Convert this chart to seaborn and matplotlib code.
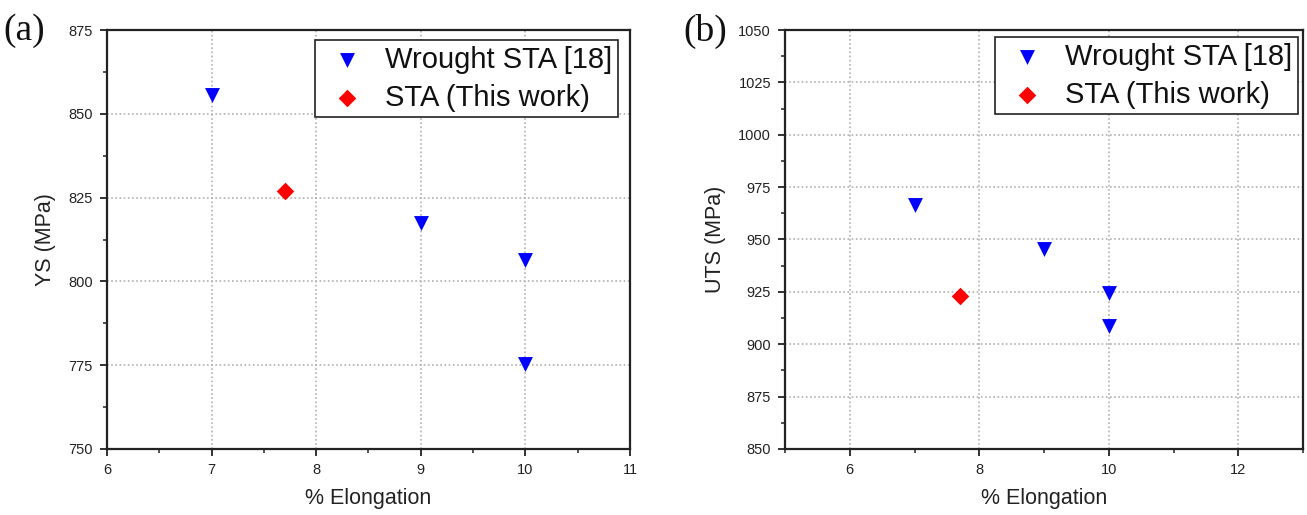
import numpy as np
import pandas as pd
import matplotlib
matplotlib.use("Agg")
import matplotlib.pyplot as plt
from matplotlib.ticker import MultipleLocator
import seaborn as sns

# ---- data ----
series = ["Wrought STA [18]", "Wrought STA [18]", "Wrought STA [18]", "Wrought STA [18]", "STA (This work)"]
elongation = [7, 9, 10, 10, 7.7]
ys = [855.5, 817.5, 806.5, 775.5, 827]
uts = [966.5, 945.5, 924.5, 908.5, 923]

df = pd.DataFrame({"series": series, "elong": elongation, "ys": ys, "uts": uts})

sns.set_theme(style="white")
plt.rcParams["font.family"] = ["Liberation Sans", "DejaVu Sans"]

palette = {"Wrought STA [18]": "#0000ff", "STA (This work)": "#ff0000"}
markers = {"Wrought STA [18]": "v", "STA (This work)": "D"}
sizes_pts = {"Wrought STA [18]": 115, "STA (This work)": 80}

fig = plt.figure(figsize=(13.07, 5.15), dpi=100)
ax_a = fig.add_axes([107 / 1307, 1 - 449 / 515, 523 / 1307, 419 / 515])
ax_b = fig.add_axes([785 / 1307, 1 - 449 / 515, 518 / 1307, 419 / 515])


def draw(ax, ycol, ylabel, xlim, ylim, xmaj, xmin, ymaj, ymin, leg_anchor, tag, tag_x):
    for name in ["Wrought STA [18]", "STA (This work)"]:
        sub = df[df["series"] == name]
        sns.scatterplot(data=sub, x="elong", y=ycol, ax=ax, color=palette[name],
                        marker=markers[name], s=sizes_pts[name], linewidth=0,
                        label=name, zorder=3)
    ax.set_xlim(*xlim)
    ax.set_ylim(*ylim)
    ax.xaxis.set_major_locator(MultipleLocator(xmaj))
    ax.xaxis.set_minor_locator(MultipleLocator(xmin))
    ax.yaxis.set_major_locator(MultipleLocator(ymaj))
    ax.yaxis.set_minor_locator(MultipleLocator(ymin))
    ax.grid(True, which="major", linestyle=(0, (1, 1.5)), color="#b0b0b0", linewidth=1.2)
    ax.tick_params(which="major", direction="out", length=5, width=1.3, labelsize=10.5,
                   bottom=True, left=True, colors="#222222", pad=5)
    ax.tick_params(which="minor", direction="out", length=3, width=1.1,
                   bottom=True, left=True, colors="#222222")
    for sp in ax.spines.values():
        sp.set_visible(True)
        sp.set_color("#222222")
        sp.set_linewidth(1.6)
    ax.set_xlabel("% Elongation", fontsize=15.5, labelpad=8, color="#222222")
    ax.set_ylabel(ylabel, fontsize=15.5, labelpad=9, color="#222222")
    leg = ax.legend(loc="upper right", bbox_to_anchor=leg_anchor, borderaxespad=0,
                    fontsize=21, frameon=True, fancybox=False, framealpha=1,
                    edgecolor="#222222", handletextpad=0.4, borderpad=0.2,
                    labelspacing=0.33, handlelength=1.8)
    leg.get_frame().set_linewidth(1.2)
    for t in leg.get_texts():
        t.set_color("#111111")
    fig.text(tag_x, 1 - 31 / 515, tag, fontsize=27, family=["Liberation Serif", "DejaVu Serif"],
             ha="left", va="center", color="#111111")


draw(ax_a, "ys", "YS (MPa)", (6, 11), (750, 875), 1, 0.5, 25, 12.5,
     (0.977, 0.976), "(a)", 3 / 1307)
draw(ax_b, "uts", "UTS (MPa)", (5, 13), (850, 1050), 2, 1, 25, 12.5,
     (0.990, 0.983), "(b)", 683 / 1307)

fig.savefig("out.png", dpi=100, facecolor="white")
